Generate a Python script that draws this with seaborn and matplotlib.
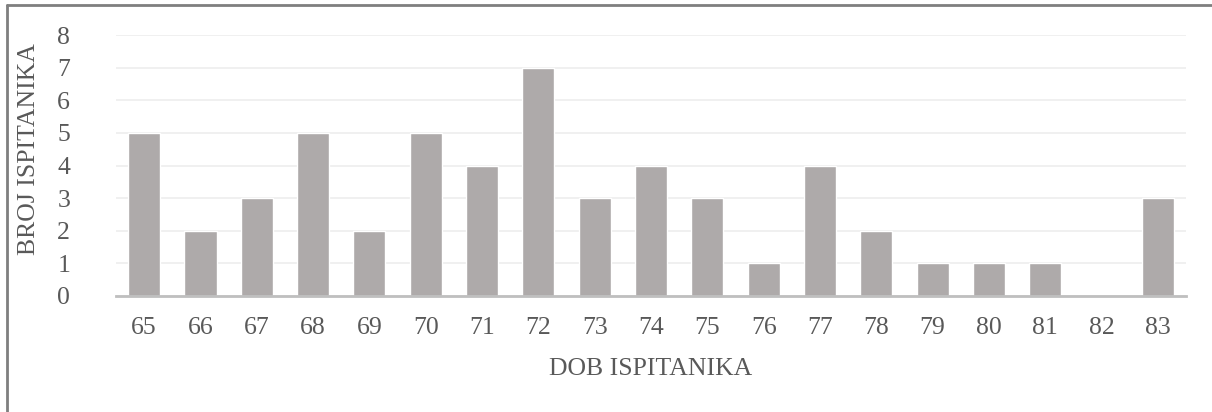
import matplotlib
matplotlib.use("Agg")
import matplotlib.pyplot as plt
import seaborn as sns
import pandas as pd
from matplotlib.lines import Line2D

# Data
ages = ["65", "66", "67", "68", "69", "70", "71", "72", "73", "74",
        "75", "76", "77", "78", "79", "80", "81", "82", "83"]
counts = [5, 2, 3, 5, 2, 5, 4, 7, 3, 4, 3, 1, 4, 2, 1, 1, 1, 0, 3]

df = pd.DataFrame({"age": ages, "count": counts})

sns.set_style("white")
plt.rcParams['font.family'] = ['Liberation Serif', 'DejaVu Serif']

text_color = "#595959"
fs = 18.5

fig = plt.figure(figsize=(12.12, 4.12), dpi=100)
ax = fig.add_axes([116 / 1212, 1 - 296 / 412, (1186 - 116) / 1212, (296 - 35) / 412])

sns.barplot(data=df, x="age", y="count", color="#AEAAAA", width=0.57,
            saturation=1, ax=ax, zorder=3)

ax.set_ylim(0, 8)
ax.set_xlim(-0.5, len(ages) - 0.5)
ax.set_yticks(range(0, 9))
ax.yaxis.grid(True, color="#EEEEEE", linewidth=1.2, zorder=0)
ax.set_axisbelow(True)

for s in ["top", "right", "left"]:
    ax.spines[s].set_visible(False)
ax.spines["bottom"].set_color("#BFBFBF")
ax.spines["bottom"].set_linewidth(2)
ax.spines["bottom"].set_zorder(4)

ax.tick_params(axis="both", length=0, labelsize=fs, colors=text_color)
ax.tick_params(axis="x", pad=15)
ax.tick_params(axis="y", pad=33)

ax.set_xlabel("DOB ISPITANIKA", fontsize=fs, color=text_color, labelpad=14)
ax.set_ylabel("BROJ ISPITANIKA", fontsize=fs, color=text_color)
ax.yaxis.set_label_coords(-0.071, 0.563)

# outer border (left and top visible)
fig.add_artist(Line2D([7 / 1212, 7 / 1212], [0, 1 - 5 / 412], transform=fig.transFigure,
                      color="#7F7F7F", linewidth=2))
fig.add_artist(Line2D([7 / 1212, 1], [1 - 5 / 412, 1 - 5 / 412], transform=fig.transFigure,
                      color="#7F7F7F", linewidth=2))

plt.savefig("out.png", dpi=100)
